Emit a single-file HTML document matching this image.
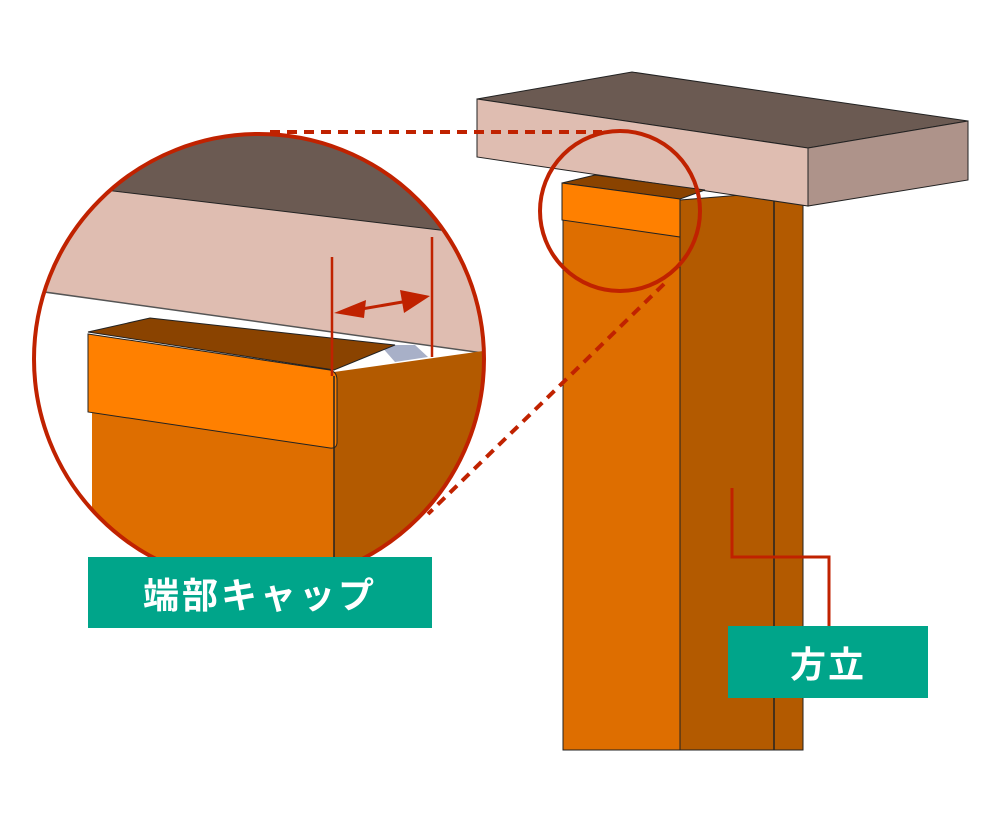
<!DOCTYPE html>
<html><head><meta charset="utf-8"><style>
html,body{margin:0;padding:0;background:#fff;}
.wrap{position:relative;width:1000px;height:821px;overflow:hidden;}
.lbl{position:absolute;background:#00A58A;color:#fff;font-family:"Liberation Sans","Noto Sans CJK JP",sans-serif;font-weight:bold;display:flex;align-items:center;justify-content:center;}
</style></head><body><div class="wrap">
<svg width="1000" height="821" viewBox="0 0 1000 821" style="position:absolute;left:0;top:0">
<defs><clipPath id="c"><circle cx="259" cy="359" r="225"/></clipPath></defs>
<!-- post -->
<rect x="563" y="200" width="117" height="550" fill="#DE6E00" stroke="#222" stroke-width="1"/>
<polygon points="680,200 803,190 803,750 680,750" fill="#B35A00" stroke="#222" stroke-width="1"/>
<line x1="774" y1="195" x2="774" y2="750" stroke="#222" stroke-width="1.5"/>
<!-- beam -->
<polygon points="477,99 632,72 968,121 808,148" fill="#6B5A52" stroke="#222" stroke-width="1"/>
<polygon points="477,99 808,148 808,206 477,157" fill="#DFBDB1" stroke="#222" stroke-width="1"/>
<polygon points="808,148 968,121 968,180 808,206" fill="#AE938A" stroke="#222" stroke-width="1"/>
<!-- cap main -->
<polygon points="562,183 595,175 705,190 680,199" fill="#8A4300" stroke="#222" stroke-width="1"/>
<polygon points="562,183 680,199 680,237 562,220" fill="#FF8000" stroke="#222" stroke-width="1"/>
<!-- small circle -->
<circle cx="620" cy="211" r="80" fill="none" stroke="#C02200" stroke-width="4"/>
<!-- dashed lines -->
<line x1="270" y1="132" x2="602" y2="132" stroke="#C02200" stroke-width="4" stroke-dasharray="10,7"/>
<line x1="664" y1="284" x2="428" y2="514" stroke="#C02200" stroke-width="4" stroke-dasharray="10,7"/>
<!-- big circle content -->
<g clip-path="url(#c)">
<rect x="30" y="130" width="460" height="460" fill="#fff"/>
<polygon points="30,130 490,130 490,236 115,191 30,181" fill="#6B5A52"/>
<polygon points="30,181 115,191 490,236 490,354 30,290" fill="#DFBDB1"/>
<line x1="30" y1="181" x2="490" y2="236" stroke="#222" stroke-width="1"/>
<line x1="30" y1="290" x2="490" y2="354" stroke="#555" stroke-width="1.5"/>
<polygon points="334,372 490,350 490,600 334,600" fill="#B35A00"/>
<polygon points="380,345 415,345 428,357 395,362" fill="#A8B0C8"/>
<polygon points="92,410 334,446 334,600 92,600" fill="#DE6E00"/>
<polygon points="88,332 150,318 395,345 334,370" fill="#8A4300" stroke="#222" stroke-width="1"/>
<path d="M88,334 L330,370 Q337,372 337,380 L337,442 Q337,449 330,448 L88,412 Z" fill="#FF8000" stroke="#222" stroke-width="1"/>
<line x1="334" y1="376" x2="334" y2="600" stroke="#222" stroke-width="1.5"/>
</g>
<circle cx="259" cy="359" r="225" fill="none" stroke="#C02200" stroke-width="4"/>
<!-- dimension -->
<line x1="332" y1="257" x2="332" y2="376" stroke="#C02200" stroke-width="2.5"/>
<line x1="432" y1="237" x2="432" y2="357" stroke="#C02200" stroke-width="2.5"/>
<line x1="350" y1="311" x2="414" y2="300" stroke="#C02200" stroke-width="3"/>
<polygon points="334,313 366,300 364,318" fill="#C02200"/>
<polygon points="430,296 400,290 404,313" fill="#C02200"/>
<!-- leader -->
<polyline points="732,488 732,557 829,557 829,627" fill="none" stroke="#C02200" stroke-width="3"/>
</svg>
<div class="lbl" style="left:88px;top:557px;width:344px;height:71px;font-size:36px;letter-spacing:3px;">端部キャップ</div>
<div class="lbl" style="left:728px;top:626px;width:200px;height:72px;font-size:36px;letter-spacing:2px;">方立</div>
</div></body></html>
